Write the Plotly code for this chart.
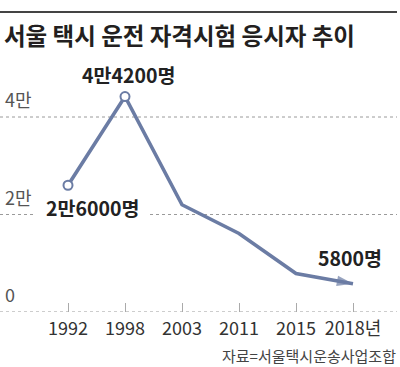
import plotly.graph_objects as go

years = ["1992", "1998", "2003", "2011", "2015", "2018"]
tick_labels = ["1992", "1998", "2003", "2011", "2015", "2018년"]
applicants = [26000, 44200, 22000, 16100, 7900, 5800]
y_ticks = [0, 20000, 40000]
y_tick_labels = ["0", "2만", "4만"]
title = "서울 택시 운전 자격시험 응시자 추이"
source = "자료=서울택시운송사업조합"
point_labels = {0: "2만6000명", 1: "4만4200명", 5: "5800명"}

LINE = "#6b7ca4"
GRID = "#9a9a9a"
KR = "Noto Sans CJK KR"
NARROW = "Liberation Sans Narrow, Noto Sans CJK KR"

W, H = 400, 367
fig = go.Figure()

fig.add_trace(go.Scatter(
    x=years, y=applicants, mode="lines",
    line=dict(color=LINE, width=3.6),
    hoverinfo="skip", cliponaxis=False,
))
fig.add_trace(go.Scatter(
    x=years[:2], y=applicants[:2], mode="markers",
    marker=dict(symbol="circle", size=9, color="white",
                line=dict(color=LINE, width=2)),
    hoverinfo="skip", cliponaxis=False,
))
fig.add_trace(go.Scatter(
    x=years[-2:], y=applicants[-2:], mode="markers",
    marker=dict(symbol="arrow", size=[0, 17], color=LINE,
                angleref="previous", line=dict(width=0)),
    hoverinfo="skip", cliponaxis=False,
))

fig.add_shape(type="line", xref="paper", yref="paper",
              x0=0, x1=397 / W, y0=(312 - 12) / 312, y1=(312 - 12) / 312,
              line=dict(color="#444", width=2))

for v in y_ticks:
    segs = [(0, 33), (150, 397)] if v == 20000 else [(0, 397)]
    for a, b in segs:
        fig.add_shape(type="line", xref="paper", yref="y", x0=a / W, x1=b / W,
                      y0=v, y1=v, layer="below",
                      line=dict(color=GRID, width=1, dash="dot"))

for v, t in zip(y_ticks, y_tick_labels):
    fig.add_annotation(x=3 / W, xref="paper", y=v, yref="y", text=t,
                       showarrow=False, xanchor="left", yanchor="bottom", yshift=3,
                       font=dict(family=NARROW, size=18, color="#555"))

shifts = {0: (24, -22), 1: (3, 22), 5: (-3, 26)}
for i, t in point_labels.items():
    dx, dy = shifts[i]
    fig.add_annotation(x=i, xref="x", y=applicants[i], yref="y",
                       text="<b>" + t + "</b>",
                       showarrow=False, xshift=dx, yshift=dy,
                       font=dict(family=KR, size=19.5, color="#222"))

fig.add_annotation(x=2 / W, xref="paper", y=(312 - 35) / 312, yref="paper",
                   text="<b>" + title + "</b>", showarrow=False,
                   xanchor="left", yanchor="middle",
                   font=dict(family=KR, size=23.5, color="#231f20"))

fig.add_annotation(x=398 / W, xref="paper", y=-(355 - 312) / 312, yref="paper",
                   text=source, showarrow=False, xanchor="right", yanchor="middle",
                   font=dict(family=KR, size=15, color="#444"))

x0 = -68 / 57
fig.update_layout(
    width=W, height=H, margin=dict(l=0, r=0, t=0, b=55, autoexpand=False),
    paper_bgcolor="white", plot_bgcolor="white", showlegend=False,
    xaxis=dict(type="category", range=[x0, x0 + W / 57], showgrid=False,
               zeroline=False, showline=False, ticks="inside", ticklen=9,
               tickcolor="#aaa", tickwidth=1, tickvals=years, ticktext=tick_labels,
               tickfont=dict(family=NARROW, size=18, color="#333"),
               ticklabelstandoff=4,
               automargin=False, fixedrange=True),
    yaxis=dict(range=[0, 312 / 0.004875], showgrid=False, zeroline=False,
               showticklabels=False, automargin=False, fixedrange=True),
)

fig.write_html("out.html", config={"displayModeBar": False, "staticPlot": True},
               post_script="document.body.style.margin='0';document.body.style.overflow='hidden';")
